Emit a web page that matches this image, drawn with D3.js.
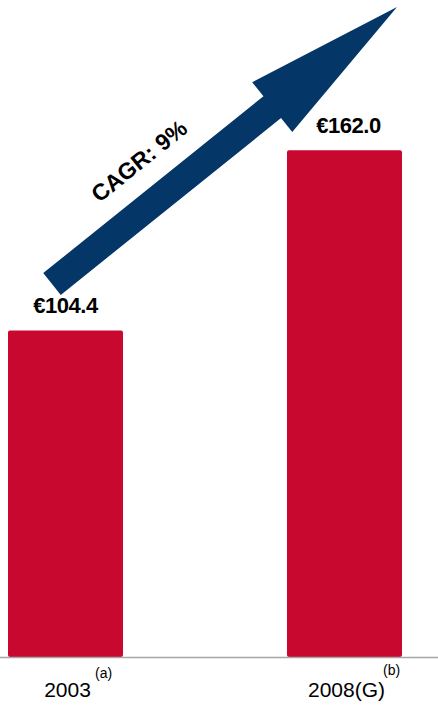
<!DOCTYPE html>
<html>
<head>
<meta charset="utf-8">
<script src="https://cdn.jsdelivr.net/npm/d3@7"></script>
<style>
  body { margin: 0; background: #fff; }
  text { font-family: "Liberation Sans", Arial, sans-serif; }
</style>
</head>
<body>
<div id="chart-area"></div>
<script>
// DATA
var years = ["2003", "2008(G)"];
var notes = ["(a)", "(b)"];
var values = [104.4, 162.0];
var valueLabels = ["€104.4", "€162.0"];
var cagrLabel = "CAGR: 9%";

var width = 438;
var height = 705;
var baseY = 657;

var svg = d3.select("#chart-area")
    .append("svg")
    .attr("width", width)
    .attr("height", height);

// SCALES
var x = d3.scaleBand()
    .domain(years)
    .range([8, 402])
    .paddingInner(0.5878)
    .paddingOuter(0);

var y = d3.scaleLinear()
    .domain([0, 210])
    .range([baseY, 0]);

// BARS
svg.selectAll("rect.bar").data(values)
    .enter()
    .append("rect")
    .attr("class", "bar")
    .attr("x", (d, i) => x(years[i]))
    .attr("y", (d) => y(d))
    .attr("width", x.bandwidth())
    .attr("height", (d) => baseY - y(d))
    .attr("rx", 2)
    .attr("fill", "#c8082f");

// baseline
svg.append("line")
    .attr("x1", 0).attr("x2", width)
    .attr("y1", baseY + 0.5).attr("y2", baseY + 0.5)
    .attr("stroke", "#a6a6a6")
    .attr("stroke-width", 1.5);

// value labels
svg.selectAll("text.val").data(values)
    .enter()
    .append("text")
    .attr("class", "val")
    .attr("x", (d, i) => x(years[i]) + x.bandwidth() / 2 + (i == 1 ? 4 : 0))
    .attr("y", (d) => y(d) - 17)
    .attr("text-anchor", "middle")
    .attr("font-size", "22px")
    .attr("font-weight", "bold")
    .attr("letter-spacing", "-0.5")
    .text((d, i) => valueLabels[i]);

// category labels with superscript notes
var cat = svg.selectAll("g.cat").data(years)
    .enter()
    .append("g")
    .attr("class", "cat");

cat.append("text")
    .attr("x", (d) => x(d) + x.bandwidth() / 2 + 2)
    .attr("y", 697)
    .attr("text-anchor", "middle")
    .attr("font-size", "21px")
    .text((d) => d);

cat.append("text")
    .attr("x", (d, i) => i == 0 ? 95 : 383)
    .attr("y", (d, i) => i == 0 ? 678 : 675)
    .attr("font-size", "14px")
    .text((d, i) => notes[i]);

// CAGR ARROW (from above first bar to top right)
var start = [52, 284];
var tip = [397, 7];
var dx = tip[0] - start[0], dy = tip[1] - start[1];
var len = Math.sqrt(dx * dx + dy * dy);
var ux = dx / len, uy = dy / len;
var nx = -uy, ny = ux; // normal
var shaftHalf = 14, headHalf = 32, headLen = 160;
var b = [start[0] + ux * (len - headLen), start[1] + uy * (len - headLen)];

function pt(p, k) { return [p[0] + nx * k, p[1] + ny * k]; }

var arrowPts = [
    pt(start, -shaftHalf),
    pt(b, -shaftHalf),
    pt(b, -headHalf),
    tip,
    pt(b, headHalf),
    pt(b, shaftHalf),
    pt(start, shaftHalf)
];

svg.append("path")
    .attr("d", d3.line()(arrowPts) + "Z")
    .attr("fill", "#053668");

var angle = Math.atan2(dy, dx) * 180 / Math.PI;
var tc = [139, 161];
svg.append("text")
    .attr("transform", "translate(" + tc[0] + "," + tc[1] + ") rotate(" + angle + ")")
    .attr("text-anchor", "middle")
    .attr("dy", "0.35em")
    .attr("font-size", "23px")
    .attr("font-weight", "bold")
    .text(cagrLabel);
</script>
</body>
</html>
